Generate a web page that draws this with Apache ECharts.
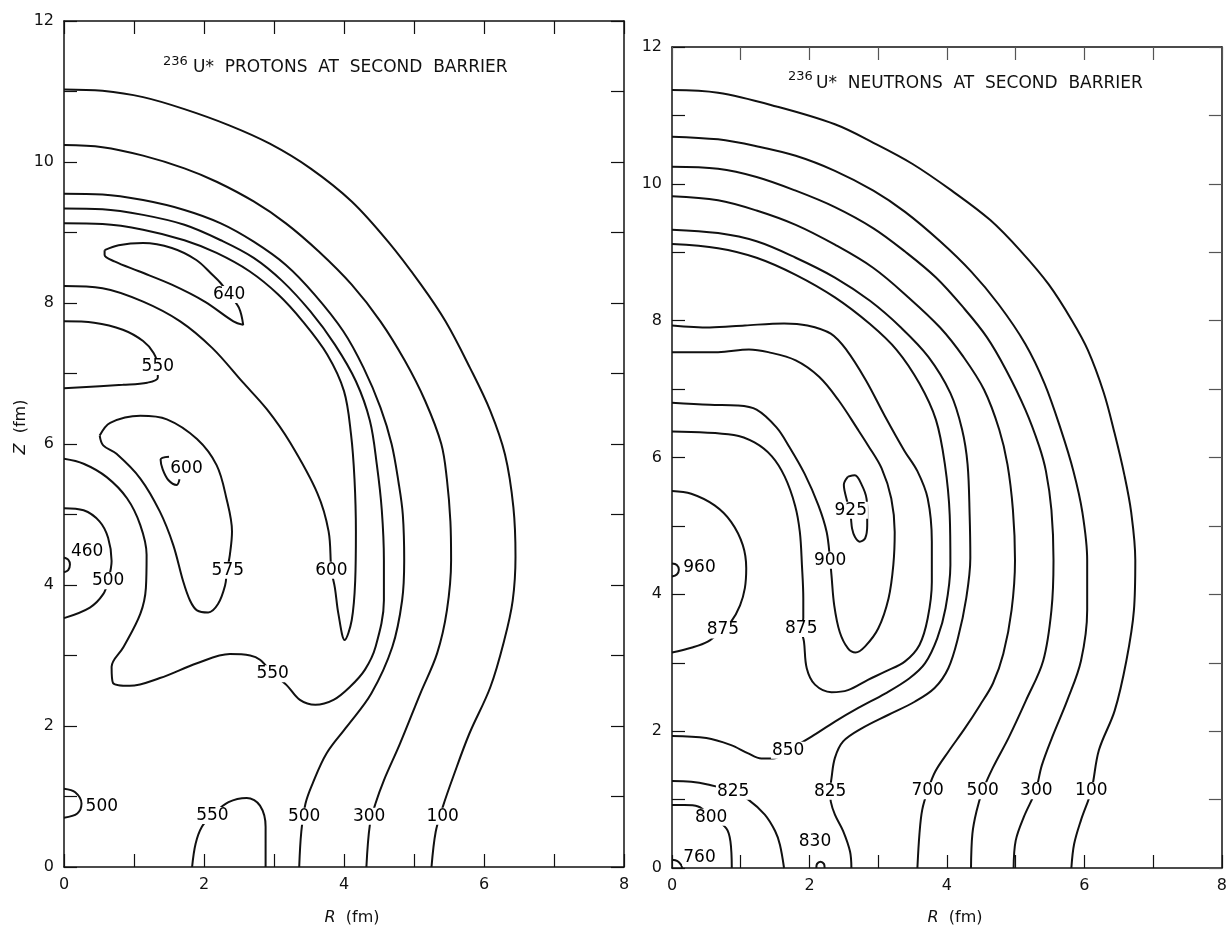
<!DOCTYPE html>
<html><head><meta charset="utf-8">
<script src="https://cdn.jsdelivr.net/npm/echarts@6/dist/echarts.min.js"></script>
<style>html,body{margin:0;padding:0;background:#fff}#c{width:1230px;height:928px}</style>
</head><body><div id="c"></div>
<script>
// ---------- axis ticks ----------
const rTicks = [0, 2, 4, 6, 8];
const zTicks = [0, 2, 4, 6, 8, 10, 12];

// ---------- left panel: protons, contours [R, Z] ----------
const p100 = [[0,11.03],[0.55,11.01],[1.13,10.92],[1.72,10.75],[2.36,10.52],[2.94,10.26],[3.52,9.91],[4.11,9.44],[4.63,8.87],[5.1,8.26],[5.45,7.74],[5.8,7.08],[6.09,6.47],[6.3,5.85],[6.42,5.1],[6.45,4.4],[6.41,3.78],[6.29,3.22],[6.09,2.55],[5.79,1.89],[5.56,1.28],[5.41,0.85],[5.31,0.5],[5.25,0]];
const p300 = [[0,10.24],[0.55,10.21],[1.13,10.09],[1.72,9.91],[2.18,9.72],[2.71,9.44],[3.17,9.13],[3.64,8.73],[4.11,8.26],[4.52,7.74],[4.87,7.18],[5.16,6.61],[5.39,6.0],[5.47,5.5],[5.52,4.9],[5.53,4.35],[5.47,3.64],[5.33,3.03],[5.09,2.46],[4.8,1.75],[4.57,1.23],[4.45,0.9],[4.37,0.6],[4.32,0]];
const p500 = [[0,9.55],[0.55,9.54],[1.13,9.46],[1.72,9.32],[2.24,9.13],[2.71,8.87],[3.17,8.54],[3.58,8.12],[3.99,7.6],[4.28,7.08],[4.52,6.52],[4.68,6.0],[4.78,5.45],[4.84,5.0],[4.86,4.35],[4.83,3.78],[4.69,3.12],[4.39,2.46],[4.04,1.99],[3.75,1.61],[3.55,1.18],[3.45,0.9],[3.39,0.5],[3.36,0]];
const p550outer = [[0,9.34],[0.55,9.33],[1.13,9.25],[1.72,9.11],[2.24,8.89],[2.71,8.64],[3.12,8.31],[3.52,7.88],[3.87,7.41],[4.17,6.89],[4.37,6.33],[4.47,5.7],[4.54,5.06],[4.57,4.35],[4.57,3.78],[4.45,3.12],[4.3,2.8],[4.09,2.56],[3.85,2.37],[3.59,2.3],[3.37,2.37],[3.18,2.58],[2.98,2.75],[2.8,2.94],[2.66,3.0],[2.37,3.02],[1.9,2.89],[1.37,2.68],[0.94,2.57],[0.7,2.61],[0.68,2.84],[0.85,3.12],[1.09,3.59],[1.17,3.96],[1.18,4.43],[1.09,4.85],[0.9,5.23],[0.61,5.53],[0.28,5.72],[0,5.79]];
const p600 = [[0,9.13],[0.55,9.12],[1.13,9.04],[1.72,8.89],[2.18,8.71],[2.65,8.45],[3.06,8.12],[3.41,7.74],[3.76,7.27],[4.0,6.75],[4.1,6.14],[4.15,5.5],[4.17,4.76],[4.16,4.06],[4.11,3.5],[4.01,3.22],[3.92,3.59],[3.87,3.96],[3.82,4.21],[3.78,4.76],[3.62,5.3],[3.23,6.02],[2.9,6.49],[2.55,6.88],[2.12,7.36],[1.66,7.74],[1.13,8.02],[0.55,8.21],[0,8.24]];
const p640 = [[0.58,8.75],[0.78,8.82],[1.13,8.85],[1.54,8.78],[1.89,8.61],[2.12,8.4],[2.24,8.28],[2.36,8.12],[2.5,7.93],[2.56,7.69],[2.42,7.74],[2.01,8.02],[1.54,8.26],[1.07,8.45],[0.72,8.59],[0.58,8.68],[0.58,8.75]];
const p550bump = [[0,7.74],[0.43,7.72],[0.84,7.62],[1.13,7.46],[1.28,7.29],[1.34,7.1],[1.34,6.94],[1.19,6.87],[0.84,6.84],[0,6.79]];
const p575 = [[0.51,6.12],[0.66,6.3],[1.09,6.4],[1.47,6.35],[1.9,6.07],[2.18,5.7],[2.32,5.23],[2.4,4.76],[2.37,4.43],[2.33,4.21],[2.3,3.99],[2.2,3.73],[2.06,3.61],[1.9,3.64],[1.8,3.78],[1.7,4.06],[1.56,4.57],[1.37,5.04],[1.09,5.51],[0.75,5.86],[0.56,5.98],[0.51,6.12]];
const p600hook = [[1.5,5.82],[1.38,5.78],[1.41,5.64],[1.49,5.49],[1.61,5.42],[1.65,5.5]];
const p500blob = [[0,5.09],[0.28,5.06],[0.51,4.9],[0.63,4.67],[0.68,4.34],[0.63,4.06],[0.56,3.87],[0.37,3.68],[0,3.53]];
const p460 = [[0,4.39],[0.06,4.36],[0.085,4.29],[0.06,4.21],[0,4.18]];
const p500small = [[0,1.11],[0.16,1.06],[0.25,0.9],[0.19,0.76],[0,0.7]];
const p550bottom = [[1.83,0],[1.88,0.33],[1.97,0.57],[2.12,0.74],[2.35,0.92],[2.61,0.98],[2.8,0.87],[2.88,0.57],[2.88,0]];
const protonLabels = [[2.36,8.12,'640'],[1.34,7.1,'550'],[1.75,5.65,'600'],[2.34,4.21,'575'],[3.82,4.21,'600'],[0.33,4.48,'460'],[0.63,4.06,'500'],[2.98,2.74,'550'],[0.54,0.85,'500'],[2.12,0.73,'550'],[3.43,0.72,'500'],[4.36,0.72,'300'],[5.41,0.72,'100']];

// ---------- right panel: neutrons, contours [R, Z] ----------
const n100 = [[0,11.37],[0.67,11.33],[1.52,11.13],[2.37,10.87],[2.93,10.6],[3.5,10.29],[4.07,9.9],[4.63,9.47],[5.08,9.01],[5.48,8.53],[5.82,8.0],[6.05,7.57],[6.28,6.95],[6.44,6.35],[6.58,5.75],[6.68,5.2],[6.74,4.5],[6.72,3.77],[6.61,3.03],[6.44,2.3],[6.21,1.72],[6.1,1.13],[5.95,0.7],[5.85,0.35],[5.81,0]];
const n300 = [[0,10.69],[0.67,10.65],[1.23,10.55],[1.8,10.41],[2.37,10.19],[2.93,9.9],[3.39,9.59],[3.9,9.16],[4.35,8.72],[4.75,8.24],[5.14,7.66],[5.42,7.08],[5.66,6.4],[5.84,5.8],[5.97,5.2],[6.04,4.5],[6.04,3.77],[5.95,3.03],[5.75,2.45],[5.53,1.91],[5.38,1.5],[5.29,1.13],[5.12,0.75],[5.0,0.4],[4.97,0]];
const n500 = [[0,10.25],[0.67,10.22],[1.23,10.1],[1.8,9.9],[2.37,9.66],[2.93,9.35],[3.39,9.01],[3.84,8.63],[4.24,8.19],[4.58,7.76],[4.86,7.28],[5.14,6.7],[5.34,6.17],[5.44,5.8],[5.52,5.23],[5.55,4.5],[5.52,3.77],[5.4,3.03],[5.15,2.45],[4.9,1.91],[4.67,1.47],[4.52,1.13],[4.43,0.83],[4.37,0.5],[4.35,0]];
const n700 = [[0,9.82],[0.67,9.76],[1.23,9.61],[1.8,9.4],[2.37,9.11],[2.93,8.77],[3.44,8.34],[3.9,7.9],[4.24,7.47],[4.54,6.99],[4.76,6.41],[4.88,5.9],[4.96,5.23],[4.99,4.5],[4.94,3.77],[4.82,3.13],[4.67,2.7],[4.48,2.38],[4.26,2.04],[4.02,1.7],[3.83,1.41],[3.72,1.13],[3.64,0.85],[3.6,0.5],[3.57,0]];
const n825right = [[0,9.33],[0.67,9.28],[1.23,9.16],[1.8,8.92],[2.37,8.63],[2.88,8.29],[3.33,7.9],[3.73,7.47],[4.05,6.94],[4.22,6.41],[4.3,5.9],[4.33,5.16],[4.34,4.53],[4.28,3.94],[4.16,3.36],[4.02,2.92],[3.82,2.63],[3.53,2.43],[3.15,2.24],[2.76,2.04],[2.49,1.85],[2.37,1.61],[2.32,1.31],[2.3,1.12],[2.31,0.97],[2.37,0.78],[2.49,0.54],[2.59,0.24],[2.61,0]];
const n850 = [[0,9.12],[0.67,9.06],[1.23,8.92],[1.8,8.67],[2.37,8.34],[2.88,7.95],[3.27,7.57],[3.6,7.08],[3.84,6.55],[3.97,5.9],[4.04,5.16],[4.05,4.43],[3.98,3.8],[3.86,3.36],[3.68,2.99],[3.45,2.77],[3.1,2.55],[2.71,2.34],[2.37,2.14],[2.03,1.92],[1.69,1.72],[1.47,1.6],[1.3,1.6],[1.1,1.68],[0.85,1.8],[0.5,1.9],[0,1.93]];
const n875 = [[0,7.93],[0.55,7.9],[1.06,7.93],[1.63,7.96],[1.97,7.93],[2.31,7.81],[2.54,7.57],[2.82,7.13],[3.1,6.6],[3.38,6.1],[3.57,5.8],[3.72,5.4],[3.78,4.77],[3.78,4.18],[3.72,3.65],[3.6,3.26],[3.39,3.02],[3.1,2.87],[2.85,2.75],[2.56,2.6],[2.32,2.57],[2.08,2.68],[1.96,2.92],[1.92,3.31],[1.88,3.5],[1.91,3.65],[1.91,3.94],[1.89,4.43],[1.86,4.91],[1.79,5.3],[1.64,5.72],[1.45,6.02],[1.2,6.22],[0.9,6.33],[0,6.38]];
const n900 = [[0,6.8],[0.55,6.77],[0.95,6.76],[1.23,6.7],[1.52,6.44],[1.71,6.15],[1.93,5.76],[2.13,5.3],[2.25,4.91],[2.3,4.5],[2.32,4.28],[2.36,3.84],[2.44,3.45],[2.56,3.21],[2.67,3.15],[2.81,3.24],[3.0,3.5],[3.15,3.94],[3.22,4.43],[3.24,4.91],[3.19,5.4],[3.05,5.84],[2.85,6.18],[2.71,6.4],[2.42,6.84],[2.14,7.18],[1.8,7.42],[1.4,7.54],[1.12,7.58],[0.67,7.54],[0,7.54]];
const n925 = [[2.56,5.72],[2.66,5.74],[2.76,5.6],[2.83,5.4],[2.84,5.21],[2.84,5.01],[2.81,4.82],[2.73,4.77],[2.66,4.84],[2.62,4.96],[2.6,5.13],[2.55,5.35],[2.5,5.6],[2.56,5.72]];
const n875blob = [[0,5.51],[0.28,5.47],[0.62,5.3],[0.86,5.06],[1.03,4.72],[1.08,4.38],[1.06,4.09],[0.99,3.84],[0.86,3.6],[0.72,3.47],[0.52,3.31],[0.28,3.22],[0,3.15]];
const n960 = [[0,4.45],[0.07,4.43],[0.1,4.36],[0.07,4.29],[0,4.26]];
const n825left = [[0,1.27],[0.28,1.26],[0.52,1.22],[0.89,1.12],[1.11,1.0],[1.35,0.78],[1.5,0.54],[1.57,0.34],[1.63,0]];
const n800 = [[0,0.92],[0.18,0.92],[0.38,0.9],[0.57,0.75],[0.79,0.58],[0.85,0.39],[0.87,0]];
const n760 = [[0,0.12],[0.08,0.1],[0.13,0.05],[0.15,0]];
const n830 = [[2.1,0],[2.11,0.06],[2.16,0.09],[2.21,0.06],[2.22,0]];
const neutronLabels = [[2.6,5.23,'925'],[2.3,4.5,'900'],[0.4,4.39,'960'],[0.74,3.48,'875'],[1.88,3.5,'875'],[1.69,1.72,'850'],[0.89,1.12,'825'],[2.3,1.12,'825'],[3.72,1.13,'700'],[4.52,1.13,'500'],[5.3,1.13,'300'],[6.1,1.13,'100'],[0.57,0.74,'800'],[2.08,0.39,'830'],[0.4,0.15,'760']];

// ---------- chart ----------
const INK = '#111';
const FONT = 'DejaVu Sans';
const evenFmt = v => (rTicks.concat(zTicks).indexOf(v) >= 0 ? String(v) : '');

function xAx(g, pos, labels, tickColor) {
  return {type:'value', gridIndex:g, position:pos, min:0, max:8, interval:1,
    axisLine:{show:true, onZero:false, lineStyle:{color:INK, width:1.5}},
    axisTick:{show:true, inside:true, length:13, lineStyle:{color:tickColor, width:1.2}},
    axisLabel:{show:labels, margin:10, formatter:evenFmt, color:INK, fontSize:16, fontFamily:FONT, showMinLabel:true, showMaxLabel:true},
    splitLine:{show:false}};
}
function yAx(g, pos, labels, tickColor) {
  return {type:'value', gridIndex:g, position:pos, min:0, max:12, interval:1,
    axisLine:{show:true, onZero:false, lineStyle:{color:INK, width:1.5}},
    axisTick:{show:true, inside:true, length:13, lineStyle:{color:tickColor, width:1.2}},
    axisLabel:{show:labels, margin:10, formatter:evenFmt, color:INK, fontSize:16, fontFamily:FONT, showMinLabel:true, showMaxLabel:true},
    splitLine:{show:false}};
}

const leftContours = [p100, p300, p500, p550outer, p600, p640, p550bump, p575, p600hook, p500blob, p460, p500small, p550bottom];
const rightContours = [n100, n300, n500, n700, n825right, n850, n875, n900, n925, n875blob, n960, n825left, n800, n760, n830];

const series = [];
function addContours(list, g) {
  list.forEach(d => series.push({type:'line', xAxisIndex:g*2, yAxisIndex:g*2, data:d, symbol:'none', showSymbol:false,
    smooth:0.35, lineStyle:{color:INK, width:2}, silent:true, animation:false, z:2}));
}
function addLabels(list, g) {
  series.push({type:'scatter', xAxisIndex:g*2, yAxisIndex:g*2, data:list.map(l => [l[0], l[1], l[2]]),
    symbolSize:1, itemStyle:{color:'#fff'}, silent:true, animation:false, z:5,
    label:{show:true, position:'inside', formatter:p => p.value[2], color:'#000', fontSize:17, fontFamily:FONT,
      textBorderWidth:0, textBorderColor:'transparent', textShadowBlur:0, opacity:1,
      backgroundColor:'#fff', padding:[0,1]}});
}
addContours(leftContours, 0);
addContours(rightContours, 1);
addLabels(protonLabels, 0);
addLabels(neutronLabels, 1);

const txt = (x, y, s, size) => ({type:'text', x:x, y:y, silent:true,
  style:{text:s, fill:INK, font:size + 'px "' + FONT + '"', align:'left', verticalAlign:'middle'}});
const axName = (x, y, rot) => ({type:'text', x:x, y:y, rotation:rot, silent:true,
  style:{text:(rot ? '{i|Z}' : '{i|R}') + '  (fm)', fill:INK, font:'16px "' + FONT + '"', align:'center', verticalAlign:'middle',
    rich:{i:{fontStyle:'italic', fontSize:16, fontFamily:FONT, fill:INK}}}});

const option = {
  animation:false,
  backgroundColor:'#fff',
  grid:[{left:64, top:21, width:560, height:846}, {left:672, top:47, width:553, height:821}],
  xAxis:[xAx(0,'bottom',true,INK), xAx(0,'top',false,INK), xAx(1,'bottom',true,INK), xAx(1,'top',false,'#555')],
  yAxis:[yAx(0,'left',true,INK), yAx(0,'right',false,INK), yAx(1,'left',true,INK), yAx(1,'right',false,'#555')],
  series:series,
  graphic:[
    txt(163, 61.5, '236', 13),
    txt(193, 67.5, 'U*  PROTONS  AT  SECOND  BARRIER', 17),
    txt(788, 77, '236', 13),
    txt(816, 84, 'U*  NEUTRONS  AT  SECOND  BARRIER', 17),
    axName(352, 918, 0),
    axName(955, 918, 0),
    axName(21, 427, Math.PI / 2)
  ]
};
const chart = echarts.init(document.getElementById('c'), null, {renderer:'canvas'});
chart.setOption(option);
</script></body></html>
